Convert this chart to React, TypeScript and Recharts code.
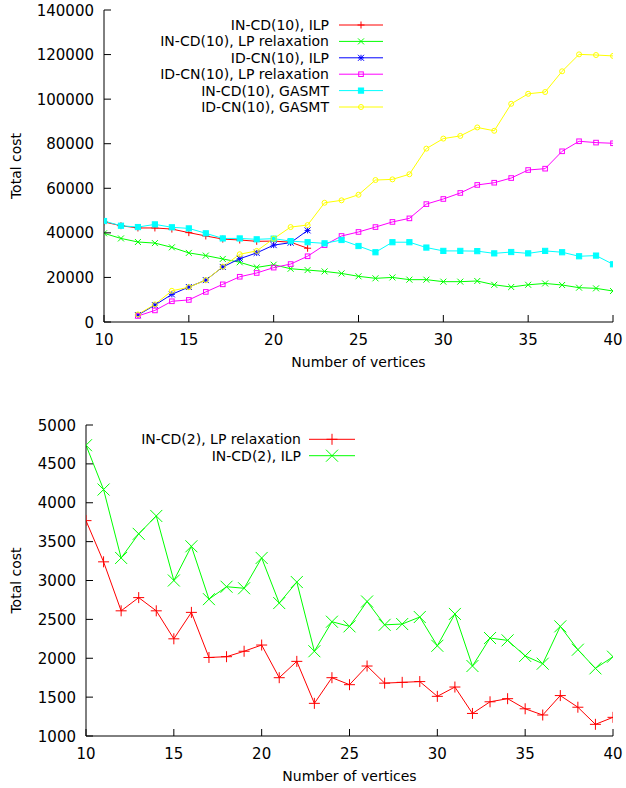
import React from 'react';
import { LineChart, Line, XAxis, YAxis, Legend, Label } from 'recharts';

// ---------- data ----------
const vertices = [10, 11, 12, 13, 14, 15, 16, 17, 18, 19, 20, 21, 22, 23, 24, 25, 26, 27, 28, 29, 30, 31, 32, 33, 34, 35, 36, 37, 38, 39, 40];
const xTicks = [10, 15, 20, 25, 30, 35, 40];
const topYTicks = [0, 20000, 40000, 60000, 80000, 100000, 120000, 140000];
const bottomYTicks = [1000, 1500, 2000, 2500, 3000, 3500, 4000, 4500, 5000];

const inCd10Ilp = [44900, 43200, 42200, 42200, 41700, 40100, 38600, 37200, 36800, 36200, 36300, 35800, 33100,
  null, null, null, null, null, null, null, null, null, null, null, null, null, null, null, null, null, null];
const inCd10Lp = [39800, 37500, 35900, 35400, 33500, 31000, 29800, 28300, 26800, 24500, 25700, 23900, 23300, 22700, 21800,
  20500, 19600, 20000, 19000, 19000, 18100, 18100, 18400, 16700, 15700, 16700, 17300, 16600, 15400, 15100, 13900];
const idCn10Ilp = [null, null, 3100, 7600, 12400, 15700, 18800, 24700, 28400, 31000, 34500, 35600, 41100,
  null, null, null, null, null, null, null, null, null, null, null, null, null, null, null, null, null, null];
const idCn10Lp = [null, null, 2700, 5200, 9300, 9900, 13500, 16900, 20300, 22000, 24400, 26000, 29500, 34500, 38600,
  40400, 42600, 44900, 46500, 52900, 55200, 57900, 61500, 62500, 64600, 68200, 68800, 76600, 81100, 80500, 80200];
const inCd10Gasmt = [45300, 43200, 42600, 43800, 42500, 42000, 39800, 37500, 37500, 37100, 37400, 36300, 35800, 35300, 36800,
  34100, 31300, 35800, 35800, 33400, 31900, 31900, 31800, 30800, 31400, 30800, 31900, 31300, 29500, 29800, 25900];
const idCn10Gasmt = [null, null, 3400, 7900, 14000, 15600, 18800, 24800, 30400, 31900, 37400, 42600, 43500, 53500, 54600,
  57100, 63700, 64000, 66300, 77800, 82300, 83500, 87300, 85800, 97900, 102400, 103200, 112500, 120100, 119800, 119400];

const inCd2Lp = [3770, 3240, 2610, 2780, 2610, 2250, 2590, 2010, 2020, 2090, 2170, 1750, 1960, 1420, 1750,
  1660, 1900, 1680, 1690, 1700, 1510, 1630, 1290, 1440, 1480, 1350, 1270, 1520, 1370, 1150, 1240];
const inCd2Ilp = [4740, 4170, 3290, 3600, 3830, 3000, 3440, 2760, 2920, 2900, 3290, 2710, 2980, 2090, 2470,
  2410, 2730, 2430, 2440, 2530, 2160, 2570, 1900, 2260, 2230, 2030, 1930, 2410, 2110, 1870, 2020];

const topData = vertices.map((v, i) => ({
  x: v,
  a: inCd10Ilp[i],
  b: inCd10Lp[i],
  c: idCn10Ilp[i],
  d: idCn10Lp[i],
  e: inCd10Gasmt[i],
  f: idCn10Gasmt[i],
}));
const bottomData = vertices.map((v, i) => ({ x: v, lp: inCd2Lp[i], ilp: inCd2Ilp[i] }));

// ---------- style ----------
const FONT = '"DejaVu Sans", sans-serif';
const TICK = 7;

type Kind = 'plus' | 'cross' | 'star' | 'square' | 'fsquare' | 'circle';

const topSeries: { key: string; name: string; color: string; kind: Kind; size: number }[] = [
  { key: 'a', name: 'IN-CD(10), ILP', color: '#ff0000', kind: 'plus', size: 3.5 },
  { key: 'b', name: 'IN-CD(10), LP relaxation', color: '#00ff00', kind: 'cross', size: 3 },
  { key: 'c', name: 'ID-CN(10), ILP', color: '#0000ff', kind: 'star', size: 3 },
  { key: 'd', name: 'ID-CN(10), LP relaxation', color: '#ff00ff', kind: 'square', size: 2.3 },
  { key: 'e', name: 'IN-CD(10), GASMT', color: '#00ffff', kind: 'fsquare', size: 2.6 },
  { key: 'f', name: 'ID-CN(10), GASMT', color: '#ffff00', kind: 'circle', size: 2.5 },
];
const bottomSeries: { key: string; name: string; color: string; kind: Kind; size: number }[] = [
  { key: 'lp', name: 'IN-CD(2), LP relaxation', color: '#ff0000', kind: 'plus', size: 5.5 },
  { key: 'ilp', name: 'IN-CD(2), ILP', color: '#00ff00', kind: 'cross', size: 6 },
];

function Marker({ kind, cx, cy, h, color }: { kind: Kind; cx: number; cy: number; h: number; color: string }) {
  const s = { stroke: color, strokeWidth: 1 };
  switch (kind) {
    case 'plus':
      return (
        <g>
          <line x1={cx - h} y1={cy} x2={cx + h} y2={cy} {...s} />
          <line x1={cx} y1={cy - h} x2={cx} y2={cy + h} {...s} />
        </g>
      );
    case 'cross':
      return (
        <g>
          <line x1={cx - h} y1={cy - h} x2={cx + h} y2={cy + h} {...s} />
          <line x1={cx - h} y1={cy + h} x2={cx + h} y2={cy - h} {...s} />
        </g>
      );
    case 'star':
      return (
        <g>
          <line x1={cx - h} y1={cy} x2={cx + h} y2={cy} {...s} />
          <line x1={cx} y1={cy - h} x2={cx} y2={cy + h} {...s} />
          <line x1={cx - h} y1={cy - h} x2={cx + h} y2={cy + h} {...s} />
          <line x1={cx - h} y1={cy + h} x2={cx + h} y2={cy - h} {...s} />
        </g>
      );
    case 'square':
      return <rect x={cx - h} y={cy - h} width={2 * h} height={2 * h} fill="none" {...s} />;
    case 'fsquare':
      return <rect x={cx - h} y={cy - h} width={2 * h} height={2 * h} fill={color} {...s} />;
    case 'circle':
    default:
      return <circle cx={cx} cy={cy} r={h} fill="none" {...s} />;
  }
}

const makeDot = (kind: Kind, h: number, color: string) => (p: any) => {
  const k = `dot-${p.index}`;
  if (p.cx == null || p.cy == null || p.value == null) return <g key={k} />;
  return (
    <g key={k}>
      <Marker kind={kind} cx={p.cx} cy={p.cy} h={h} color={color} />
    </g>
  );
};

const BottomTick = (p: any) => (
  <g>
    <line x1={p.x} y1={p.y} x2={p.x} y2={p.y - TICK} stroke="#000" />
    <text x={p.x} y={p.y + 22.5} textAnchor="middle" fontSize={15} fontFamily={FONT} fill="#000">
      {p.payload.value}
    </text>
  </g>
);
const TopTick = (p: any) => <line x1={p.x} y1={p.y} x2={p.x} y2={p.y + TICK} stroke="#000" />;
const LeftTick = (p: any) => (
  <g>
    <line x1={p.x} y1={p.y} x2={p.x + TICK} y2={p.y} stroke="#000" />
    <text x={p.x - 10} y={p.y + 5.5} textAnchor="end" fontSize={15} fontFamily={FONT} fill="#000">
      {p.payload.value}
    </text>
  </g>
);
const RightTick = (p: any) => <line x1={p.x} y1={p.y} x2={p.x - TICK} y2={p.y} stroke="#000" />;

const yTitle = (props: any) => {
  const vb = props.viewBox;
  const x = vb.x + 21;
  const y = vb.y + vb.height / 2;
  return (
    <text x={x} y={y} transform={`rotate(-90 ${x} ${y})`} textAnchor="middle" fontSize={14} fontFamily={FONT} fill="#000">
      Total cost
    </text>
  );
};
const xTitle = (dy: number) => (props: any) => {
  const vb = props.viewBox;
  return (
    <text x={vb.x + vb.width / 2} y={vb.y + dy} textAnchor="middle" fontSize={14} fontFamily={FONT} fill="#000">
      Number of vertices
    </text>
  );
};

const legendContent = (
  series: { name: string; color: string; kind: Kind; size: number }[],
  textRight: number,
  lineX1: number,
  lineX2: number,
  firstY: number,
  step: number,
) => () => (
  <svg width={626} height={firstY + step * series.length + 10} style={{ display: 'block' }}>
    {series.map((s, i) => {
      const y = firstY + i * step;
      return (
        <g key={s.name}>
          <text x={textRight} y={y + 5} textAnchor="end" fontSize={14} fontFamily={FONT} fill="#000">
            {s.name}
          </text>
          <line x1={lineX1} y1={y} x2={lineX2} y2={y} stroke={s.color} strokeWidth={1} />
          <Marker kind={s.kind} cx={(lineX1 + lineX2) / 2} cy={y} h={s.size} color={s.color} />
        </g>
      );
    })}
  </svg>
);

export default function App() {
  return (
    <div style={{ position: 'absolute', left: 0, top: 0, width: 626, height: 788, background: '#fff' }}>
      <div style={{ position: 'absolute', left: 0, top: 0 }}>
        <LineChart width={626} height={375} data={topData} margin={{ top: 10, right: 13, left: 0, bottom: 0 }}>
          <XAxis
            dataKey="x"
            type="number"
            domain={[10, 40]}
            ticks={xTicks}
            allowDataOverflow
            height={53}
            tickLine={false}
            tickSize={0}
            tickMargin={0}
            axisLine={{ stroke: '#000' }}
            tick={BottomTick}
            interval={0}
          >
            <Label content={xTitle(45)} />
          </XAxis>
          <XAxis
            xAxisId="top"
            orientation="top"
            dataKey="x"
            type="number"
            domain={[10, 40]}
            ticks={xTicks}
            allowDataOverflow
            height={0}
            tickLine={false}
            tickSize={0}
            tickMargin={0}
            axisLine={{ stroke: '#000' }}
            tick={TopTick}
            interval={0}
          />
          <YAxis
            type="number"
            domain={[0, 140000]}
            ticks={topYTicks}
            allowDataOverflow
            width={104}
            tickLine={false}
            tickSize={0}
            tickMargin={0}
            axisLine={{ stroke: '#000' }}
            tick={LeftTick}
            interval={0}
          >
            <Label content={yTitle} />
          </YAxis>
          <YAxis
            yAxisId="right"
            orientation="right"
            type="number"
            domain={[0, 140000]}
            ticks={topYTicks}
            allowDataOverflow
            width={0}
            tickLine={false}
            tickSize={0}
            tickMargin={0}
            axisLine={{ stroke: '#000' }}
            tick={RightTick}
            interval={0}
          />
          {topSeries.map((s) => (
            <Line
              key={s.key}
              dataKey={s.key}
              name={s.name}
              type="linear"
              stroke={s.color}
              strokeWidth={1}
              dot={makeDot(s.kind, s.size, s.color)}
              activeDot={false}
              isAnimationActive={false}
            />
          ))}
          <Legend
            layout="vertical"
            align="center"
            verticalAlign="middle"
            wrapperStyle={{ left: 0, top: 0, width: 626, margin: 0 }}
            content={legendContent(topSeries, 329, 339, 383, 25, 16.4)}
          />
        </LineChart>
      </div>
      <div style={{ position: 'absolute', left: 0, top: 384 }}>
        <LineChart width={626} height={404} data={bottomData} margin={{ top: 41, right: 13, left: 0, bottom: 0 }}>
          <XAxis
            dataKey="x"
            type="number"
            domain={[10, 40]}
            ticks={xTicks}
            allowDataOverflow
            height={52}
            tickLine={false}
            tickSize={0}
            tickMargin={0}
            axisLine={{ stroke: '#000' }}
            tick={BottomTick}
            interval={0}
          >
            <Label content={xTitle(45)} />
          </XAxis>
          <XAxis
            xAxisId="top"
            orientation="top"
            dataKey="x"
            type="number"
            domain={[10, 40]}
            ticks={xTicks}
            allowDataOverflow
            height={0}
            tickLine={false}
            tickSize={0}
            tickMargin={0}
            axisLine={{ stroke: '#000' }}
            tick={TopTick}
            interval={0}
          />
          <YAxis
            type="number"
            domain={[1000, 5000]}
            ticks={bottomYTicks}
            allowDataOverflow
            width={86}
            tickLine={false}
            tickSize={0}
            tickMargin={0}
            axisLine={{ stroke: '#000' }}
            tick={LeftTick}
            interval={0}
          >
            <Label content={yTitle} />
          </YAxis>
          <YAxis
            yAxisId="right"
            orientation="right"
            type="number"
            domain={[1000, 5000]}
            ticks={bottomYTicks}
            allowDataOverflow
            width={0}
            tickLine={false}
            tickSize={0}
            tickMargin={0}
            axisLine={{ stroke: '#000' }}
            tick={RightTick}
            interval={0}
          />
          {bottomSeries.map((s) => (
            <Line
              key={s.key}
              dataKey={s.key}
              name={s.name}
              type="linear"
              stroke={s.color}
              strokeWidth={1}
              dot={makeDot(s.kind, s.size, s.color)}
              activeDot={false}
              isAnimationActive={false}
            />
          ))}
          <Legend
            layout="vertical"
            align="center"
            verticalAlign="middle"
            wrapperStyle={{ left: 0, top: 0, width: 626, margin: 0 }}
            content={legendContent(bottomSeries, 301, 309, 355, 55.3, 16.4)}
          />
        </LineChart>
      </div>
    </div>
  );
}
